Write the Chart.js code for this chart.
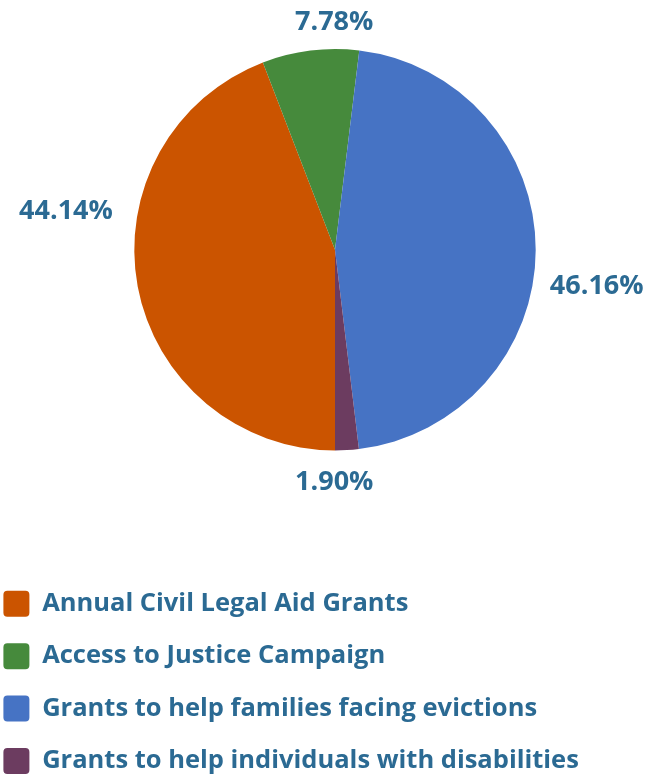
<!DOCTYPE html>
<html><head><meta charset="utf-8">
<script src="https://cdn.jsdelivr.net/npm/chart.js@4.4.0/dist/chart.umd.min.js"></script>
<style>html,body{margin:0;padding:0;background:#fff;overflow:hidden;} #wrap{width:716px;height:784px;position:relative;margin-left:-23px;}</style>
</head><body><div id="wrap"><canvas id="c"></canvas></div>
<script>
const categories = [
  'Annual Civil Legal Aid Grants',
  'Access to Justice Campaign',
  'Grants to help families facing evictions',
  'Grants to help individuals with disabilities'
];
const shares = [44.14, 7.78, 46.16, 1.90];
const sliceColors = ['#cb5400', '#468a3c', '#4673c4', '#6c3c60'];
const valueLabels = shares.map(v => v.toFixed(2) + '%');

const textColor = '#2b6a93';
const fontFamily = "'Open Sans', 'Noto Sans', sans-serif";

const outsideLabels = {
  id: 'outsideLabels',
  afterDatasetsDraw(chart, args, opts) {
    const ctx = chart.ctx;
    const meta = chart.getDatasetMeta(0);
    ctx.save();
    ctx.font = 'bold ' + opts.size + 'px ' + fontFamily;
    ctx.fillStyle = textColor;
    ctx.textAlign = 'center';
    ctx.textBaseline = 'middle';
    meta.data.forEach((arc, i) => {
      const p = arc.getProps(['x', 'y', 'startAngle', 'endAngle', 'outerRadius'], true);
      const a = (p.startAngle + p.endAngle) / 2 + opts.shift[i] * Math.PI / 180;
      const d = p.outerRadius + opts.dist[i];
      ctx.fillText(valueLabels[i], p.x + Math.cos(a) * d, p.y + Math.sin(a) * d);
    });
    ctx.restore();
  }
};

new Chart(document.getElementById('c'), {
  type: 'pie',
  data: {
    labels: categories,
    datasets: [{
      data: shares,
      backgroundColor: sliceColors,
      borderWidth: 0,
      hoverOffset: 0,
      offset: 0
    }]
  },
  plugins: [outsideLabels],
  options: {
    responsive: true,
    maintainAspectRatio: false,
    animation: false,
    rotation: 180,
    layout: { padding: { top: 49, left: 0, right: 0, bottom: 0 } },
    plugins: {
      tooltip: { enabled: false },
      outsideLabels: {
        size: 27,
        shift: [18.6, 6.85, 8.0, 3.6],
        dist: [71, 26.5, 63.6, 32.4]
      },
      legend: {
        position: 'bottom',
        align: 'start',
        title: { display: true, text: '', padding: { top: 104, bottom: 0 }, font: { size: 10, lineHeight: 1 } },
        labels: {
          boxWidth: 26,
          boxHeight: 26,
          padding: 26.4,
          useBorderRadius: true,
          borderRadius: 4,
          color: textColor,
          font: { family: fontFamily, weight: 'bold', size: 25.5 }
        }
      }
    }
  }
});
</script>
</body></html>
